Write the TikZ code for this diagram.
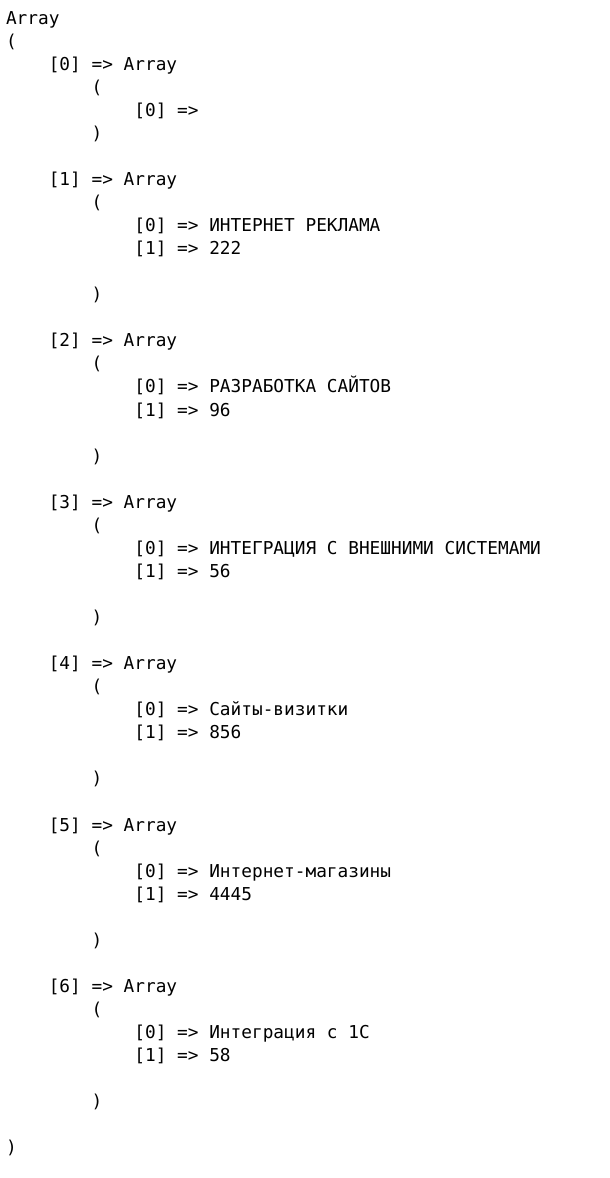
\documentclass[tikz,border=0pt]{standalone}
\usepackage{fontspec}
\newfontfamily\monofam{DejaVu Sans Mono}
\tikzset{txt/.style={anchor=base west, inner sep=0pt, outer sep=0pt, text=black,
  font=\monofam\fontsize{17.77pt}{23pt}\selectfont}}
\newcommand{\txtline}[4]{\node[txt] (#1) at ({(6+#3*10.7)*1pt},{-(24+(#2-1)*23.06)*1pt}) {#4};}
\begin{document}
\begin{tikzpicture}
\fill[white] (0,0) rectangle (610pt,-1178pt);
\useasboundingbox (0,0) rectangle (610pt,-1178pt);
\txtline{l1}{1}{0}{Array}
\txtline{l2}{2}{0}{(}
\txtline{l3}{3}{4}{[0] => Array}
\txtline{l4}{4}{8}{(}
\txtline{l5}{5}{12}{[0] =>}
\txtline{l6}{6}{8}{)}
\txtline{l8}{8}{4}{[1] => Array}
\txtline{l9}{9}{8}{(}
\txtline{l10}{10}{12}{[0] => ИНТЕРНЕТ РЕКЛАМА}
\txtline{l11}{11}{12}{[1] => 222}
\txtline{l13}{13}{8}{)}
\txtline{l15}{15}{4}{[2] => Array}
\txtline{l16}{16}{8}{(}
\txtline{l17}{17}{12}{[0] => РАЗРАБОТКА САЙТОВ}
\txtline{l18}{18}{12}{[1] => 96}
\txtline{l20}{20}{8}{)}
\txtline{l22}{22}{4}{[3] => Array}
\txtline{l23}{23}{8}{(}
\txtline{l24}{24}{12}{[0] => ИНТЕГРАЦИЯ С ВНЕШНИМИ СИСТЕМАМИ}
\txtline{l25}{25}{12}{[1] => 56}
\txtline{l27}{27}{8}{)}
\txtline{l29}{29}{4}{[4] => Array}
\txtline{l30}{30}{8}{(}
\txtline{l31}{31}{12}{[0] => Сайты-визитки}
\txtline{l32}{32}{12}{[1] => 856}
\txtline{l34}{34}{8}{)}
\txtline{l36}{36}{4}{[5] => Array}
\txtline{l37}{37}{8}{(}
\txtline{l38}{38}{12}{[0] => Интернет-магазины}
\txtline{l39}{39}{12}{[1] => 4445}
\txtline{l41}{41}{8}{)}
\txtline{l43}{43}{4}{[6] => Array}
\txtline{l44}{44}{8}{(}
\txtline{l45}{45}{12}{[0] => Интеграция с 1С}
\txtline{l46}{46}{12}{[1] => 58}
\txtline{l48}{48}{8}{)}
\txtline{l50}{50}{0}{)}
\end{tikzpicture}
\end{document}
